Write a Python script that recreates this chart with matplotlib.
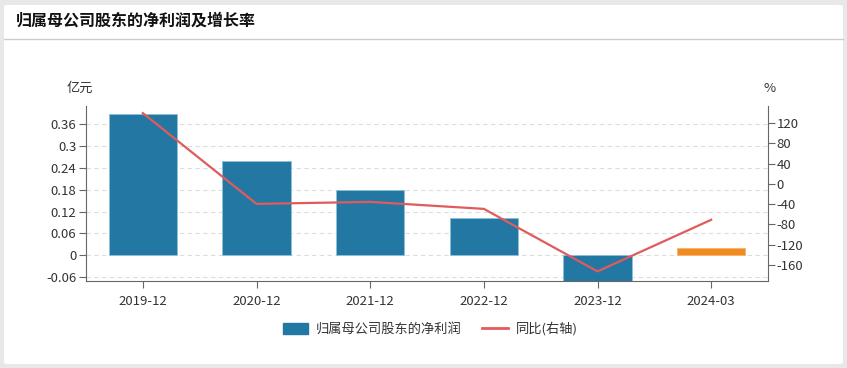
import matplotlib.pyplot as plt
import numpy as np
from matplotlib.patches import FancyBboxPatch, Patch
from matplotlib.lines import Line2D

plt.rcParams['font.family'] = ['Noto Sans CJK SC', 'DejaVu Sans']

periods = ['2019-12', '2020-12', '2021-12', '2022-12', '2023-12', '2024-03']
profit = [0.388, 0.258, 0.179, 0.102, -0.075, 0.021]   # 亿元
growth = [140, -39.5, -35.6, -49.4, -173, -71]         # %
left_ticks = [-0.06, 0, 0.06, 0.12, 0.18, 0.24, 0.3, 0.36]
left_labels = ['-0.06', '0', '0.06', '0.12', '0.18', '0.24', '0.3', '0.36']
right_ticks = [-160, -120, -80, -40, 0, 40, 80, 120]

blue = '#2277a3'
orange = '#f28b1f'
red = '#e05c5c'

W, H = 847, 368
fig = plt.figure(figsize=(W / 100, H / 100), dpi=100)
fig.patch.set_facecolor('#e8e8e8')
card = FancyBboxPatch((4 / W, 4 / H), 839 / W, 359 / H,
                      boxstyle='round,pad=0,rounding_size=0.004',
                      transform=fig.transFigure, facecolor='white',
                      edgecolor='none', zorder=-10)
fig.add_artist(card)
fig.add_artist(Line2D([4 / W, 843 / W], [1 - 39 / H, 1 - 39 / H],
                      transform=fig.transFigure, color='#cccccc', lw=1, zorder=-5))
fig.text(16 / W, 1 - 21 / H, '归属母公司股东的净利润及增长率', fontsize=11.5,
         fontweight='bold', va='center', ha='left', color='#111111')

ax = fig.add_axes([86 / W, 1 - 281 / H, 682 / W, 175 / H])
ax.set_facecolor('none')
x = np.arange(len(periods))
ax.bar(x[:-1], profit[:-1], width=0.6, color=blue, edgecolor='#8fc0d8', linewidth=0.6, zorder=2)
ax.bar(x[-1:], profit[-1:], width=0.6, color=orange, edgecolor='#f5b26a', linewidth=0.6, zorder=2)
ax.set_xlim(-0.5, len(periods) - 0.5)
ax.set_ylim(-0.071, 0.41)
ax.set_yticks(left_ticks)
ax.set_yticklabels(left_labels)
ax.set_xticks(x)
ax.set_xticklabels(periods)
ax.grid(axis='y', linestyle=(0, (4, 3)), color='#dddddd', lw=0.8, zorder=0)
for s in ['top', 'right']:
    ax.spines[s].set_visible(False)
for s in ['left', 'bottom']:
    ax.spines[s].set_color('#666666')
ax.tick_params(colors='#666666', labelcolor='#333333', labelsize=9.5, length=5, pad=2)
ax.tick_params(axis='x', pad=5)

ax2 = ax.twinx()
ax2.plot(x, growth, color=red, lw=1.6, zorder=3)
ax2.set_ylim(-192, 154)
ax2.set_yticks(right_ticks)
ax2.set_yticklabels([str(t) for t in right_ticks])
for s in ['top', 'left', 'bottom']:
    ax2.spines[s].set_visible(False)
ax2.spines['right'].set_color('#666666')
ax2.tick_params(colors='#666666', labelcolor='#333333', labelsize=9.5, length=5, pad=1)

fig.text(80 / W, 1 - 88 / H, '亿元', fontsize=9.5, ha='center', va='center', color='#333333')
fig.text(770 / W, 1 - 88 / H, '%', fontsize=9.5, ha='center', va='center', color='#333333')

handles = [Patch(facecolor=blue, edgecolor=blue), Line2D([0], [0], color=red, lw=2)]
fig.legend(handles, ['归属母公司股东的净利润', '同比(右轴)'], loc='center',
           bbox_to_anchor=(430 / W, 1 - 329 / H), ncol=2, frameon=False,
           fontsize=9.5, handlelength=1.9, handleheight=1.0, columnspacing=1.6,
           handletextpad=0.6, labelcolor='#333333')

fig.savefig('out.png', dpi=100, facecolor=fig.get_facecolor())
